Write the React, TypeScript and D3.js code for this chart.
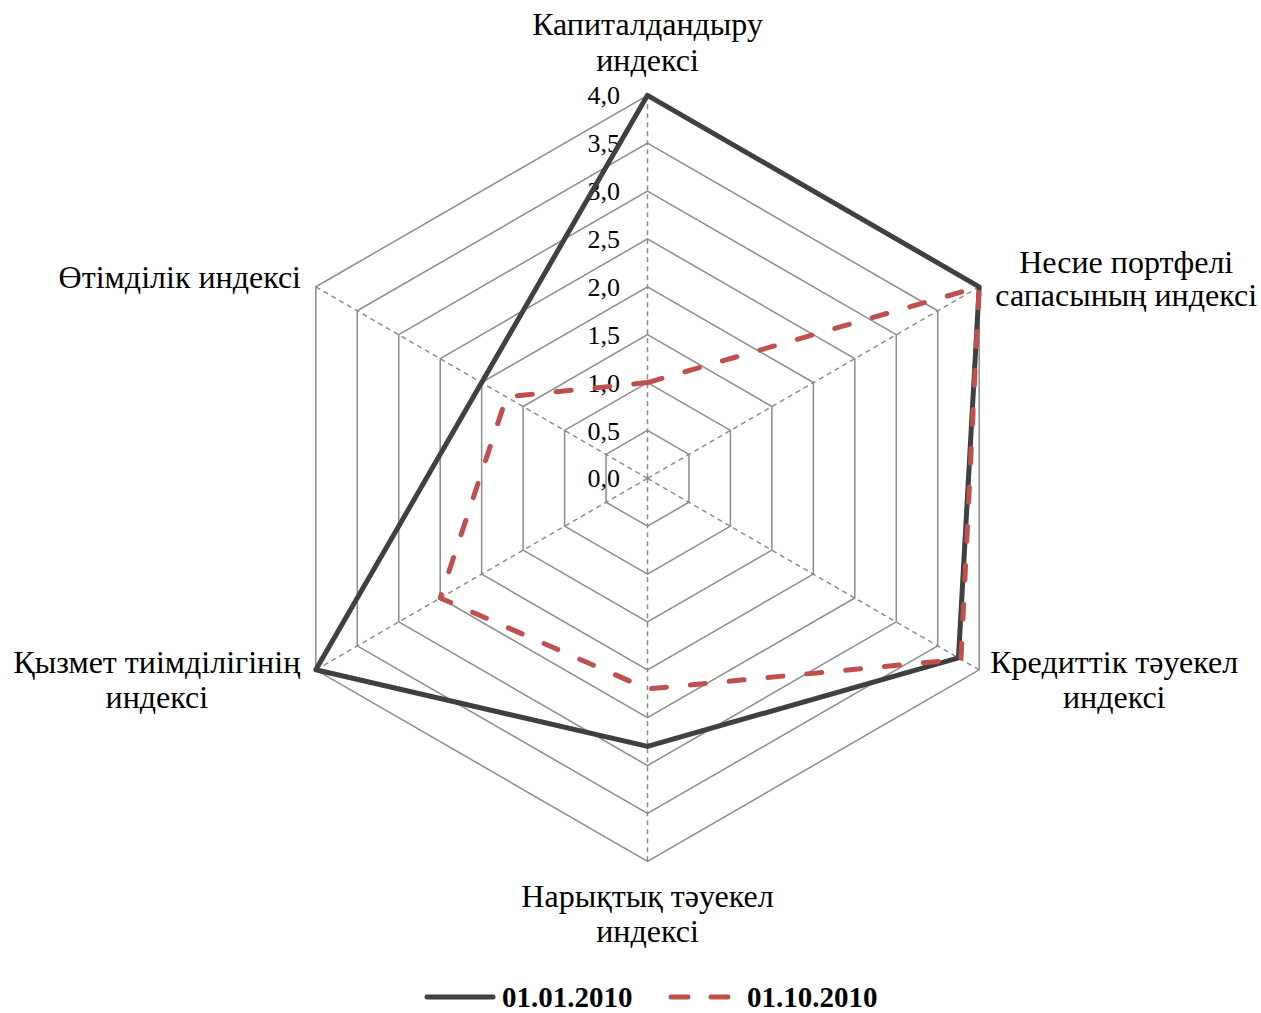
import React, { useEffect } from "react";
import * as d3 from "d3";

// Axis names (clockwise, from the top)
const axes = [
  ["Капиталдандыру", "индексі"],
  ["Несие портфелі", "сапасының индексі"],
  ["Кредиттік тәуекел", "индексі"],
  ["Нарықтық тәуекел", "индексі"],
  ["Қызмет тиімділігінің", "индексі"],
  ["Өтімділік индексі"],
];

const seriesNames = ["01.01.2010", "01.10.2010"];
const values0101 = [4.0, 4.0, 3.75, 2.8, 4.0, 2.0];
const values0110 = [1.0, 4.0, 3.78, 2.2, 2.5, 1.7];
const tickValues = [0, 0.5, 1, 1.5, 2, 2.5, 3, 3.5, 4];

const W = 1261;
const H = 1013;
const cx = 647.5;
const cy = 478.3;
const R = 383;
const FONT = "'Liberation Serif', 'Times New Roman', serif";

// label placement relative to the outer vertex of each axis
const labelLayout: { dx: number; dys: number[] }[] = [
  { dx: 0, dys: [-60, -24] },
  { dx: 147, dys: [-14, 19] },
  { dx: 135, dys: [3, 38] },
  { dx: 0, dys: [46, 81] },
  { dx: -159, dys: [3, 38] },
  { dx: -136, dys: [1] },
];

export default function App() {
  useEffect(() => {
    document.body.style.margin = "0";
  }, []);

  const r = d3.scaleLinear().domain([0, 4]).range([0, R]);
  const angle = (i: number) => (i * 2 * Math.PI) / axes.length;
  const pt = (i: number, v: number): [number, number] => [
    cx + r(v) * Math.sin(angle(i)),
    cy - r(v) * Math.cos(angle(i)),
  ];

  const line = d3
    .line<number>()
    .x((v, i) => pt(i, v)[0])
    .y((v, i) => pt(i, v)[1])
    .curve(d3.curveLinearClosed);

  const ringPath = (v: number) => line(axes.map(() => v)) as string;

  const series = [
    { name: seriesNames[0], values: values0101, color: "#404040", dash: null as string | null },
    { name: seriesNames[1], values: values0110, color: "#c0504d", dash: "15,24" },
  ];

  const fmt = (v: number) => v.toFixed(1).replace(".", ",");

  return (
    <svg width={W} height={H} style={{ display: "block", background: "#fff" }} fontFamily={FONT}>
      {/* rings */}
      {tickValues.slice(1).map((v) => (
        <path key={v} d={ringPath(v)} fill="none" stroke="#8c8c8c" strokeWidth={1.5} />
      ))}
      {/* spokes */}
      {axes.map((_, i) => {
        const [x, y] = pt(i, 4);
        return (
          <line
            key={i}
            x1={cx}
            y1={cy}
            x2={x}
            y2={y}
            stroke="#8c8c8c"
            strokeWidth={1.5}
            strokeDasharray="5,4"
          />
        );
      })}
      {/* tick labels */}
      {tickValues.map((v) => (
        <text
          key={v}
          x={620}
          y={cy - r(v)}
          dy="0.35em"
          textAnchor="end"
          fontSize={26}
          fill="#000"
        >
          {fmt(v)}
        </text>
      ))}
      {/* series */}
      {series.map((s) => (
        <path
          key={s.name}
          d={line(s.values) as string}
          fill="none"
          stroke={s.color}
          strokeWidth={5}
          strokeLinejoin="round"
          strokeLinecap="round"
          strokeDasharray={s.dash ?? undefined}
        />
      ))}
      {/* axis labels */}
      {axes.map((lines, i) => {
        const [x, y] = pt(i, 4);
        const lay = labelLayout[i];
        return (
          <text key={i} textAnchor="middle" fontSize={32} fill="#000">
            {lines.map((t, j) => (
              <tspan key={j} x={x + lay.dx} y={y + lay.dys[j]}>
                {t}
              </tspan>
            ))}
          </text>
        );
      })}
      {/* legend */}
      <g>
        <line x1={427} x2={493} y1={997} y2={997} stroke="#404040" strokeWidth={5} strokeLinecap="round" />
        <text x={502} y={1007} fontSize={29} fontWeight="bold" fill="#000">
          {seriesNames[0]}
        </text>
        <line
          x1={671}
          x2={730}
          y1={997}
          y2={997}
          stroke="#c0504d"
          strokeWidth={5}
          strokeLinecap="round"
          strokeDasharray="17,23"
        />
        <text x={747} y={1007} fontSize={29} fontWeight="bold" fill="#000">
          {seriesNames[1]}
        </text>
      </g>
    </svg>
  );
}
